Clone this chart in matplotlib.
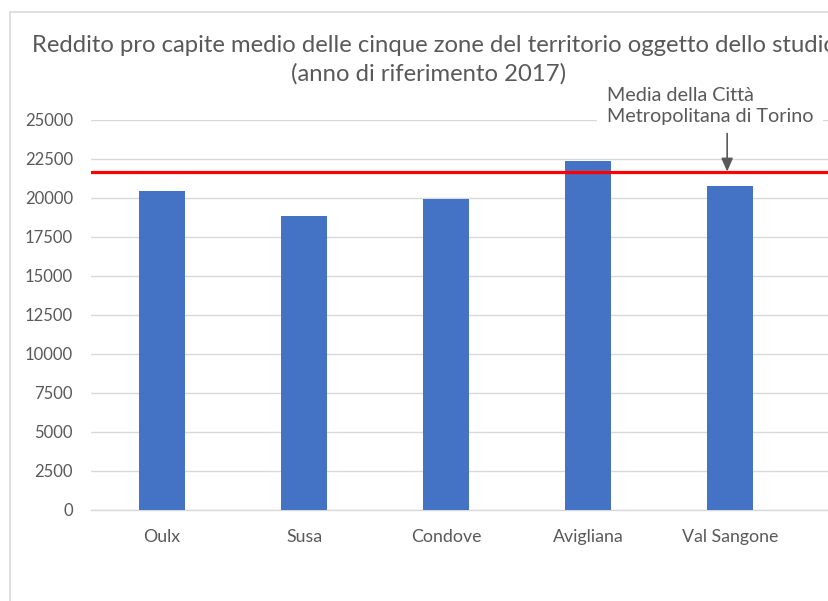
import matplotlib
matplotlib.use("Agg")
import matplotlib.pyplot as plt
from matplotlib.patches import Rectangle

categories = ["Oulx", "Susa", "Condove", "Avigliana", "Val Sangone"]
values = [20430, 18790, 19900, 22350, 20750]
media_torino = 21660
yticks = [0, 2500, 5000, 7500, 10000, 12500, 15000, 17500, 20000, 22500, 25000]

W, H = 829, 601
fig = plt.figure(figsize=(W / 100, H / 100), dpi=100)
plt.rcParams['font.family'] = ['Lato', 'DejaVu Sans']

# chart border (cropped on right/bottom)
fig.patches.append(Rectangle((10 / W, -0.1), 1.2, 1 - 12 / H + 0.1,
                             transform=fig.transFigure, fill=False,
                             edgecolor="#D9D9D9", linewidth=1.2))

left = 91 / W
bottom = (H - 509.5) / H
height = 390 / H
width = 781 / W
ax = fig.add_axes([left, bottom, width, height])

x = list(range(len(categories)))
ax.bar(x, values, width=0.317, color="#4472C4", zorder=3)
ax.axhline(media_torino, color="#FF0000", linewidth=2.3, zorder=4)

ax.set_xlim(-0.5, 5.0)
ax.set_ylim(0, 25000)
ax.set_yticks(yticks)
ax.set_yticklabels([str(v) for v in yticks])
ax.set_xticks(x)
ax.set_xticklabels(categories)
ax.tick_params(axis="both", length=0, labelsize=12, colors="#595959")
ax.tick_params(axis="x", labelsize=12.8)
ax.tick_params(axis="y", pad=13)
ax.tick_params(axis="x", pad=14)
ax.grid(axis="y", color="#D9D9D9", linewidth=1, zorder=0)
for s in ["top", "right", "left"]:
    ax.spines[s].set_visible(False)
ax.spines["bottom"].set_color("#D9D9D9")
ax.spines["bottom"].set_linewidth(1)

fig.text(434 / W, 1 - 46 / H, "Reddito pro capite medio delle cinque zone del territorio oggetto dello studio",
         ha="center", va="center", fontsize=17.2, color="#595959")
fig.text(429 / W, 1 - 74 / H, "(anno di riferimento 2017)",
         ha="center", va="center", fontsize=17.2, color="#595959")

ax.annotate("Media della Città\nMetropolitana di Torino",
            xy=(4.0, media_torino), xycoords="data",
            xytext=(607 / W, 1 - 106 / H), textcoords="figure fraction",
            ha="left", va="center", fontsize=14.2, color="#595959",
            linespacing=1.25,
            bbox=dict(boxstyle="square,pad=0.5", fc="white", ec="none"),
            zorder=5)
ax.annotate("", xy=(3.98, media_torino), xycoords="data",
            xytext=(3.98, 24100), textcoords="data",
            arrowprops=dict(arrowstyle="-|>,head_length=0.8,head_width=0.35",
                            color="#595959", lw=1.2, shrinkA=0, shrinkB=0),
            zorder=6)

fig.savefig("out.png", dpi=100)
